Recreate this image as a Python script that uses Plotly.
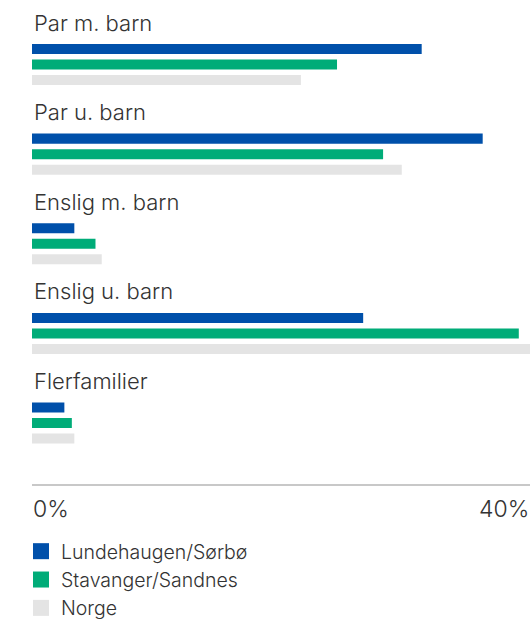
import plotly.graph_objects as go

categories = ["Par m. barn", "Par u. barn", "Enslig m. barn", "Enslig u. barn", "Flerfamilier"]
series_names = ["Lundehaugen/Sørbø", "Stavanger/Sandnes", "Norge"]
lundehaugen = [31.3, 36.2, 3.4, 26.6, 2.6]
stavanger = [24.5, 28.2, 5.1, 39.1, 3.2]
norge = [21.6, 29.7, 5.6, 40.0, 3.4]
tick_values = [0, 40]
tick_labels = ["0%", "40%"]

colors = ["#0050AA", "#00AC78", "#E4E4E4"]
FONT = "Inter"
TEXT = "#333333"

W, H = 532, 619

fig = go.Figure()
for name, vals, col in zip(series_names, [lundehaugen, stavanger, norge], colors):
    fig.add_trace(go.Bar(
        x=vals, y=categories, orientation="h", name=name,
        marker=dict(color=col, line=dict(width=0)),
        showlegend=False, hoverinfo="x+name",
    ))
    # legend proxies (square markers)
    fig.add_trace(go.Scatter(
        x=[None], y=[None], mode="markers", name=name,
        marker=dict(symbol="square", size=16, color=col),
        showlegend=True, hoverinfo="skip",
    ))

annotations = []
for c in categories:
    annotations.append(dict(
        x=0, xref="paper", xanchor="left",
        y=c, yref="y", yanchor="middle", yshift=42,
        text=c, showarrow=False,
        font=dict(family=FONT, size=22, color=TEXT, weight=300),
    ))
for v, t in zip(tick_values, tick_labels):
    first = v == tick_values[0]
    annotations.append(dict(
        x=v, xref="x", xanchor="left" if first else "right",
        xshift=-1 if first else 1,
        y=0, yref="paper", yanchor="middle", yshift=-25,
        text=t, showarrow=False,
        font=dict(family=FONT, size=23, color=TEXT, weight=300),
    ))

fig.update_layout(
    width=W, height=H,
    margin=dict(l=32, r=2, t=0, b=135, autoexpand=False),
    paper_bgcolor="white", plot_bgcolor="white",
    barmode="group", bargap=0.48, bargroupgap=0.355,
    showlegend=True,
    legend=dict(
        xref="container", x=21 / W, xanchor="left",
        yref="container", y=1 - 532 / H, yanchor="top",
        font=dict(family=FONT, size=19.5, color=TEXT, weight=300),
        bgcolor="rgba(0,0,0,0)", traceorder="normal",
        itemclick=False, itemdoubleclick=False,
    ),
    annotations=annotations,
    font=dict(family=FONT, color=TEXT),
)
fig.update_xaxes(
    range=[0, 40], showgrid=False, zeroline=False,
    showticklabels=False, ticks="",
    showline=True, linecolor="#C8C8C8", linewidth=1.5,
)
fig.update_yaxes(
    categoryorder="array", categoryarray=categories,
    range=[4.68, -0.72], showgrid=False, zeroline=False,
    showticklabels=False, ticks="", showline=False,
)

fig.write_html(
    "out.html",
    config={"displayModeBar": False},
    post_script="document.body.style.margin='0';document.body.style.overflow='hidden';",
)
